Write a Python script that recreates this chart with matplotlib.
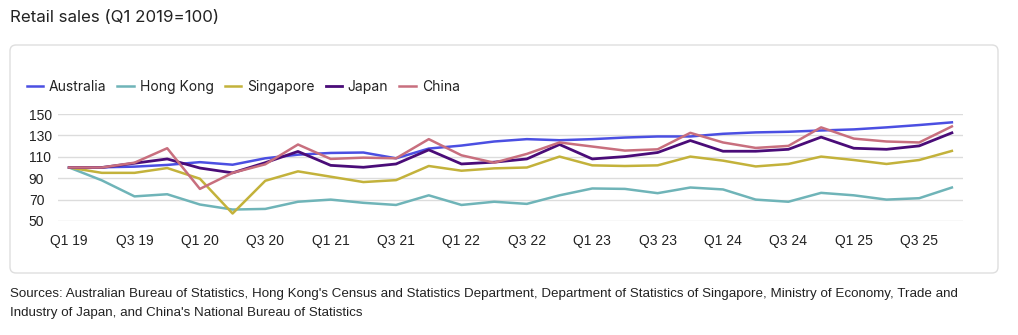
import matplotlib.pyplot as plt
import numpy as np
from matplotlib.patches import FancyBboxPatch
from matplotlib.transforms import IdentityTransform

# quarters Q1 19 .. Q4 25
years = ['19', '20', '21', '22', '23', '24', '25']
quarters = ['Q%d %s' % (q, y) for y in years for q in range(1, 5)]

australia = [100, 100.2, 100.8, 102.4, 105, 102.6, 108.6, 112, 113.6, 114,
             108.6, 117.7, 120.5, 124.3, 126.5, 125.5, 126.5, 128, 129, 129,
             131.5, 132.8, 133.4, 134.6, 135.6, 137.5, 139.7, 142.2]
hong_kong = [100, 88, 73, 75, 65.4, 60.7, 61.3, 68, 70, 67,
             65, 74, 65, 68, 66, 74, 80.4, 80, 76, 81.3,
             79.5, 70, 68, 76.3, 74, 70, 71.3, 81.3]
singapore = [100, 95, 95, 99.5, 89.5, 57, 87.6, 96.4, 91.4, 86.4,
             88.2, 101.4, 97, 99.2, 100, 110.2, 102, 101.4, 102, 110.2,
             106.4, 101, 103.3, 110.2, 107, 103.3, 107, 115.5]
japan = [100, 100, 104, 108, 99.5, 95, 104.5, 115, 102, 100.2,
         103.3, 116.5, 103.3, 105, 108, 121.5, 108, 110.2, 114, 125.2,
         115.2, 115.2, 117, 128.4, 118, 117, 120.2, 132.4]
china = [100, 100, 104.5, 118, 80, 95, 103, 121.5, 108, 109.2,
         108.6, 126.5, 111.4, 104.5, 112.7, 123.4, 119.6, 115.8, 117, 132.4,
         123.4, 118.3, 120.2, 137.5, 127, 124.3, 123.4, 138.4]

series = [('Australia', australia, '#4b4fe2', 1.8),
          ('Hong Kong', hong_kong, '#6fb4b8', 1.8),
          ('Singapore', singapore, '#c3b23b', 1.8),
          ('Japan', japan, '#4a0c78', 2.0),
          ('China', china, '#c86f7e', 1.8)]

plt.rcParams['font.family'] = ['Liberation Sans', 'DejaVu Sans']

fig = plt.figure(figsize=(10.18, 3.35), dpi=100)

# rounded frame round the chart (kept under the axes)
box = FancyBboxPatch((10, 335 - 273), 988, 228, boxstyle='round,pad=0,rounding_size=6',
                     transform=IdentityTransform(), facecolor='white',
                     edgecolor='#dedede', linewidth=1.0, zorder=-5)
fig.patches.append(box)

ax = fig.add_axes([58 / 1018, 114 / 335, 905 / 1018, 107 / 335])
ax.set_facecolor('none')
ax.set_zorder(2)
x = np.arange(len(quarters))
for name, vals, col, lw in series:
    ax.plot(x, vals, color=col, linewidth=lw, label=name)

ax.set_xlim(-0.34, len(quarters) - 1 + 0.34)
ax.set_ylim(50, 150)
ax.set_yticks(np.arange(50, 151, 20))
ax.set_xticks(x[::2])
ax.set_xticklabels(quarters[::2])
ax.grid(axis='y', color='#dcdcdc', linewidth=1)
ax.set_axisbelow(True)
for s in ax.spines.values():
    s.set_visible(False)
ax.tick_params(axis='both', length=0, labelsize=10, colors='#222222')
ax.tick_params(axis='x', pad=9)
ax.tick_params(axis='y', pad=21)
for lab in ax.get_yticklabels():
    lab.set_horizontalalignment('left')

leg = fig.legend(loc='center left', bbox_to_anchor=(14 / 1018, 1 - 87 / 335), ncol=5,
                 frameon=False, handlelength=1.2, handletextpad=0.4, columnspacing=0.8,
                 prop={'family': 'Inter', 'size': 10})
for t in leg.get_texts():
    t.set_color('#222222')

fig.text(10 / 1018, 1 - 18 / 335, 'Retail sales (Q1 2019=100)', ha='left', va='center',
         fontsize=12.2, family='Inter', color='#222222')
fig.text(10 / 1018, 1 - 303.5 / 335,
         "Sources: Australian Bureau of Statistics, Hong Kong's Census and Statistics Department, "
         "Department of Statistics of Singapore, Ministry of Economy, Trade and\n"
         "Industry of Japan, and China's National Bureau of Statistics",
         ha='left', va='center', fontsize=9.6, color='#222222', linespacing=1.75)

fig.savefig('out.png', dpi=100)
